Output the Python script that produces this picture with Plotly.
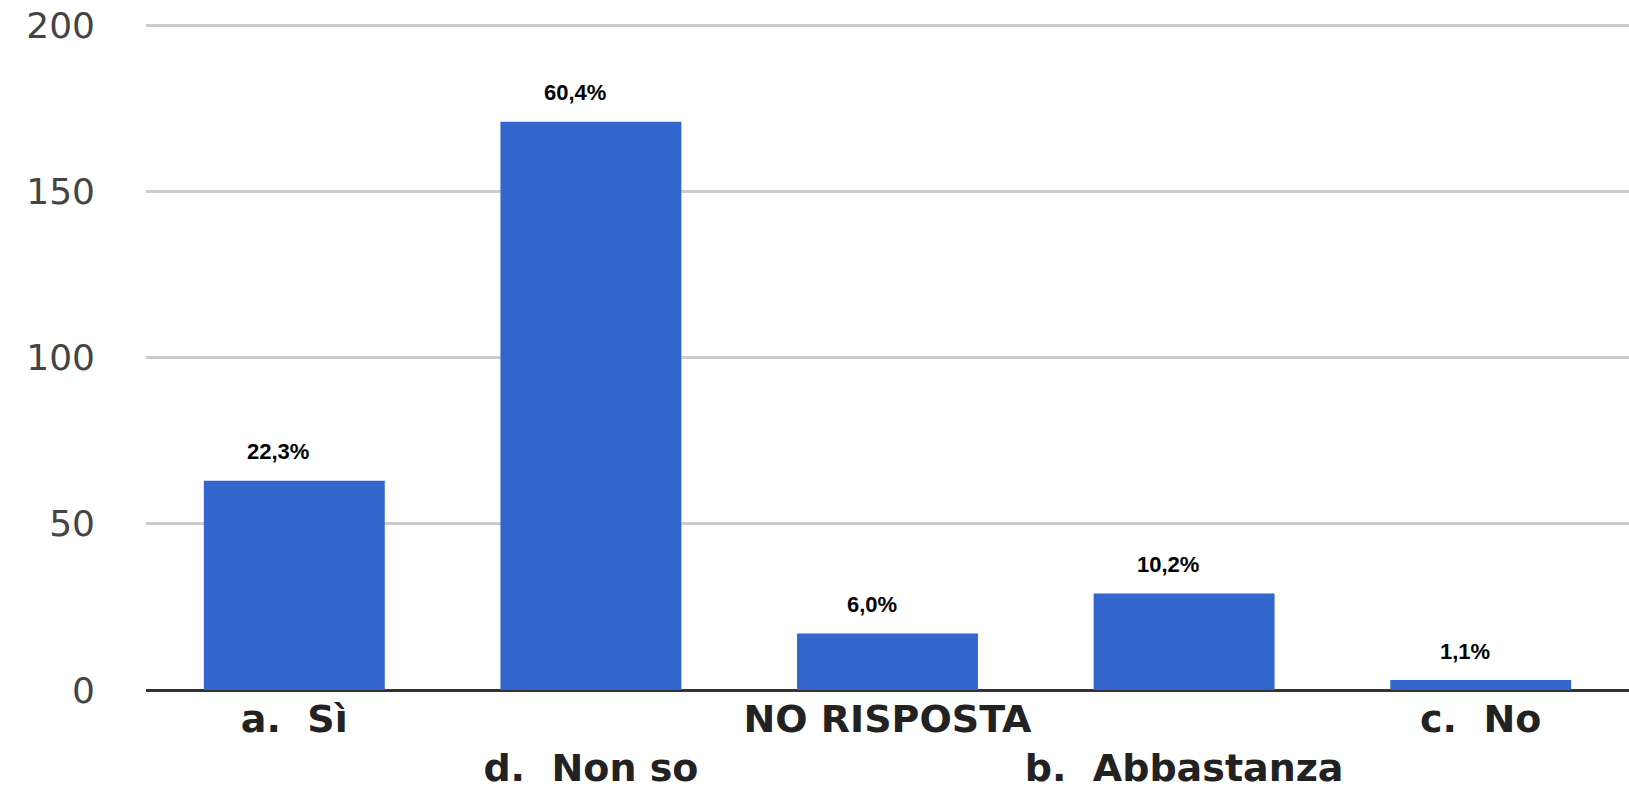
import plotly.graph_objects as go

categories = ["a.  Sì", "d.  Non so", "NO RISPOSTA", "b.  Abbastanza", "c.  No"]
counts = [63, 171, 17, 29, 3]
pct_labels = ["22,3%", "60,4%", "6,0%", "10,2%", "1,1%"]
y_ticks = [0, 50, 100, 150, 200]

NB = "\u00a0"
tick_text = []
for i, c in enumerate(categories):
    t = c.replace(" ", NB)
    tick_text.append(t if i % 2 == 0 else "<br>" + t)

fig = go.Figure()
fig.add_trace(go.Bar(
    x=categories, y=counts,
    marker=dict(color="#3366CC", line=dict(width=0)),
    hoverinfo="skip",
))

for c, v, lab in zip(categories, counts, pct_labels):
    fig.add_annotation(
        x=c, y=v, text=lab, showarrow=False,
        yanchor="middle", xanchor="center",
        yshift=29, xshift=-16,
        font=dict(family="Liberation Sans, Arial, sans-serif", size=22, color="#000000", weight="bold"),
    )

fig.update_layout(
    width=1629, height=790,
    margin=dict(l=146, r=0, t=22, b=100),
    paper_bgcolor="white", plot_bgcolor="white",
    bargap=0.39,
    showlegend=False,
    xaxis=dict(
        tickmode="array", tickvals=categories, ticktext=tick_text,
        tickangle=0, automargin=False,
        showgrid=False, showline=False, zeroline=False, ticks="",
        ticklabelstandoff=3,
        tickfont=dict(family="DejaVu Sans, sans-serif", size=38, color="#222222", weight="bold"),
        fixedrange=True,
    ),
    yaxis=dict(
        range=[0, 201], tickvals=y_ticks, automargin=False,
        ticklabeloverflow="allow",
        showgrid=True, gridcolor="#cccccc", gridwidth=3,
        zeroline=True, zerolinecolor="#333333", zerolinewidth=3,
        showline=False, ticks="",
        ticklabelstandoff=50,
        tickfont=dict(family="DejaVu Sans, sans-serif", size=36, color="#444444"),
        fixedrange=True,
    ),
)

fig.write_html(
    "out.html",
    config={"displayModeBar": False, "staticPlot": True},
    post_script="document.body.style.margin='0';document.body.style.overflow='hidden';",
)
